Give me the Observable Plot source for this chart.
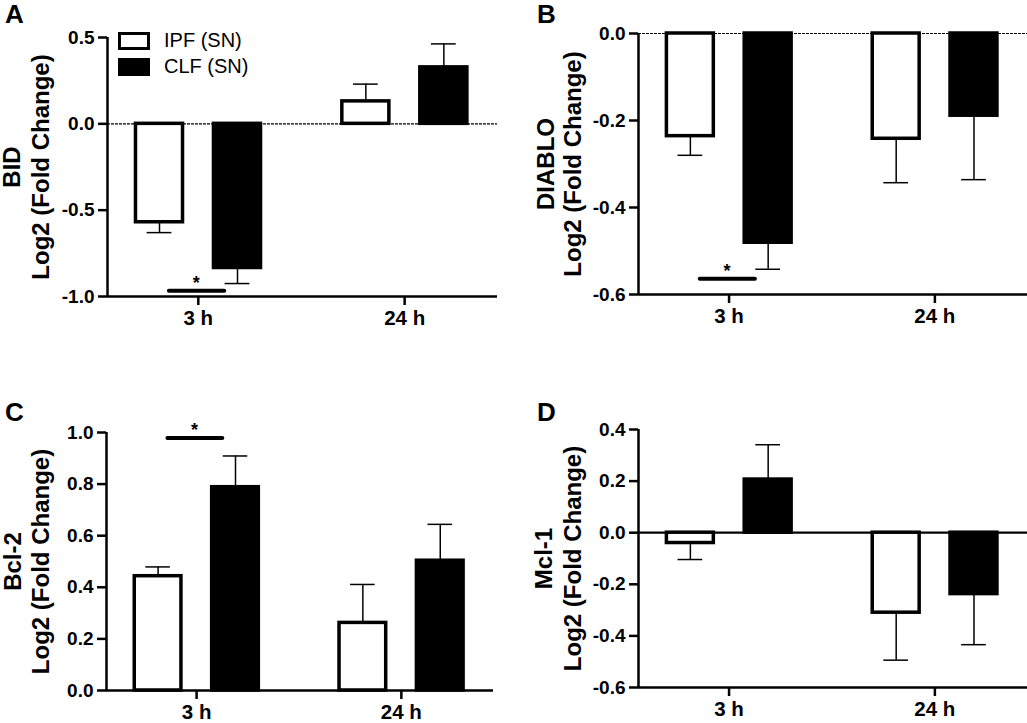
<!DOCTYPE html>
<html>
<head>
<meta charset="utf-8">
<script src="https://cdn.jsdelivr.net/npm/d3@7"></script>
<script src="https://cdn.jsdelivr.net/npm/@observablehq/plot@0.6"></script>
<style>
  body { margin: 0; background: #fff; }
  #root { position: relative; width: 1027px; height: 723px; background: #fff; font-family: "Liberation Sans", Arial, sans-serif; color: #000; }
  .pane { position: absolute; }
  .letter { position: absolute; font-weight: bold; font-size: 26px; line-height: 26px; }
  .lgbox { position: absolute; box-sizing: border-box; width: 32px; height: 18px; border: 3px solid #000; }
  .lgtxt { position: absolute; font-size: 20px; line-height: 20px; white-space: nowrap; }
</style>
</head>
<body>
<div id="root"></div>
<script>
// ---- data ----
const groups = ["3 h", "24 h"];
const series = ["IPF (SN)", "CLF (SN)"];

const bidIPF = [-0.57, 0.13];
const bidIPFerr = [0.06, 0.10];
const bidCLF = [-0.835, 0.327];
const bidCLFerr = [0.09, 0.136];

const diabloIPF = [-0.236, -0.242];
const diabloIPFerr = [0.044, 0.101];
const diabloCLF = [-0.481, -0.189];
const diabloCLFerr = [0.061, 0.147];

const bcl2IPF = [0.443, 0.262];
const bcl2IPFerr = [0.036, 0.149];
const bcl2CLF = [0.788, 0.503];
const bcl2CLFerr = [0.121, 0.141];

const mcl1IPF = [-0.04, -0.31];
const mcl1IPFerr = [0.064, 0.184];
const mcl1CLF = [0.206, -0.238];
const mcl1CLFerr = [0.135, 0.196];

const bidTicks = [-1.0, -0.5, 0.0, 0.5];
const diabloTicks = [-0.6, -0.4, -0.2, 0.0];
const bcl2Ticks = [0.0, 0.2, 0.4, 0.6, 0.8, 1.0];
const mcl1Ticks = [-0.6, -0.4, -0.2, 0.0, 0.2, 0.4];

// significance bars: [group index, y value]
const bidSig = [[0, -0.967]];
const diabloSig = [[0, -0.564]];
const bcl2Sig = [[0, 0.979]];
const mcl1Sig = [];

// ---- drawing ----
const FONT = "'Liberation Sans', Arial, sans-serif";
const xDomain = [-0.44, 1.45];
const offset = [-0.188, 0.19];
const halfW = 0.114;
const capW = 0.06;

function panel(cfg) {
  const rows = [];
  groups.forEach((g, i) => {
    rows.push({g: i, s: 0, c: i + offset[0], v: cfg.ipf[i], e: cfg.ipfErr[i]});
    rows.push({g: i, s: 1, c: i + offset[1], v: cfg.clf[i], e: cfg.clfErr[i]});
  });
  rows.forEach(d => { d.end = d.v + Math.sign(d.v) * d.e; });
  const ymin = cfg.domain[0];
  const marks = [];
  if (cfg.zero === "dash") marks.push(Plot.ruleY([0], {stroke: "#000", strokeWidth: 1.1, strokeDasharray: "3,1"}));
  if (cfg.zero === "solid") marks.push(Plot.ruleY([0], {stroke: "#000", strokeWidth: 2.2}));
  marks.push(
    Plot.rectY(rows.filter(d => d.s === 0), {x1: d => d.c - halfW, x2: d => d.c + halfW, y1: 0, y2: "v", fill: "#fff", stroke: "#000", strokeWidth: 3.5}),
    Plot.rectY(rows.filter(d => d.s === 1), {x1: d => d.c - halfW, x2: d => d.c + halfW, y1: 0, y2: "v", fill: "#000", stroke: "#000", strokeWidth: 3.5}),
    Plot.ruleX(rows, {x: "c", y1: "v", y2: "end", stroke: "#000", strokeWidth: 1.5}),
    Plot.ruleY(rows, {y: "end", x1: d => d.c - capW, x2: d => d.c + capW, stroke: "#000", strokeWidth: 1.5}),
    Plot.ruleY(cfg.sig, {y: d => d[1], x1: d => d[0] - 0.14, x2: d => d[0] + 0.128, stroke: "#000", strokeWidth: 4, strokeLinecap: "round"}),
    Plot.text(cfg.sig, {x: d => d[0] - 0.01, y: d => d[1], text: () => "*", lineAnchor: "bottom", dy: -2, fontSize: 18, fontWeight: "bold"}),
    Plot.ruleX([xDomain[0]], {stroke: "#000", strokeWidth: 2.5}),
    Plot.ruleY([ymin], {stroke: "#000", strokeWidth: 2.5}),
    Plot.axisY({ticks: cfg.ticks, tickFormat: d => d.toFixed(1), tickSize: 9, tickPadding: 4, fontSize: 19, strokeWidth: 2.5, label: null}),
    Plot.axisX({ticks: [0, 1], tickFormat: i => groups[i], tickSize: 9, tickPadding: 5, fontSize: 20.5, strokeWidth: 2.5, label: null}),
    Plot.text([cfg.name], {text: d => d, frameAnchor: "left", textAnchor: "middle", lineAnchor: "middle", rotate: -90, dx: cfg.dxName, fontSize: 24, fontWeight: "bold"}),
    Plot.text(["Log2 (Fold Change)"], {text: d => d, frameAnchor: "left", textAnchor: "middle", lineAnchor: "middle", rotate: -90, dx: cfg.dxLog, fontSize: 24, fontWeight: "bold"})
  );
  return Plot.plot({
    width: cfg.width, height: cfg.height,
    marginLeft: cfg.m[0], marginRight: cfg.m[1], marginTop: cfg.m[2], marginBottom: cfg.m[3],
    x: {type: "linear", domain: xDomain},
    y: {domain: cfg.domain},
    style: {fontFamily: FONT, fontWeight: "bold", color: "#000", background: "transparent", overflow: "visible"},
    marks
  });
}

const root = document.getElementById("root");
function place(el, left, top) {
  const d = document.createElement("div");
  d.className = "pane";
  d.style.left = left + "px"; d.style.top = top + "px";
  d.appendChild(el);
  root.appendChild(d);
}

place(panel({name: "BID", ipf: bidIPF, ipfErr: bidIPFerr, clf: bidCLF, clfErr: bidCLFerr, domain: [-1, 0.5], ticks: bidTicks, sig: bidSig, zero: "dash",
  width: 510, height: 340, m: [107, 13, 37, 44], dxName: -95, dxLog: -66}), 0, 0);
place(panel({name: "DIABLO", ipf: diabloIPF, ipfErr: diabloIPFerr, clf: diabloCLF, clfErr: diabloCLFerr, domain: [-0.6, 0], ticks: diabloTicks, sig: diabloSig, zero: "dash",
  width: 517, height: 340, m: [128, 0, 33, 46], dxName: -92, dxLog: -65}), 510, 0);
place(panel({name: "Bcl-2", ipf: bcl2IPF, ipfErr: bcl2IPFerr, clf: bcl2CLF, clfErr: bcl2CLFerr, domain: [0, 1], ticks: bcl2Ticks, sig: bcl2Sig, zero: "none",
  width: 510, height: 343, m: [106, 17, 52, 33], dxName: -93, dxLog: -65}), 0, 380);
place(panel({name: "Mcl-1", ipf: mcl1IPF, ipfErr: mcl1IPFerr, clf: mcl1CLF, clfErr: mcl1CLFerr, domain: [-0.6, 0.4], ticks: mcl1Ticks, sig: mcl1Sig, zero: "solid",
  width: 517, height: 343, m: [128, 0, 49, 36], dxName: -94, dxLog: -65}), 510, 380);

// panel letters
[["A", 5, 1], ["B", 537, 1], ["C", 5, 399], ["D", 537, 399]].forEach(([t, l, tp]) => {
  const d = document.createElement("div");
  d.className = "letter"; d.textContent = t;
  d.style.left = l + "px"; d.style.top = tp + "px";
  root.appendChild(d);
});

// legend (panel A)
[[series[0], "#fff", 32, 30], [series[1], "#000", 58, 56]].forEach(([t, fill, by, ty]) => {
  const b = document.createElement("div");
  b.className = "lgbox"; b.style.background = fill;
  b.style.left = "118px"; b.style.top = by + "px";
  root.appendChild(b);
  const s = document.createElement("div");
  s.className = "lgtxt"; s.textContent = t;
  s.style.left = "164px"; s.style.top = ty + "px";
  root.appendChild(s);
});
</script>
</body>
</html>
